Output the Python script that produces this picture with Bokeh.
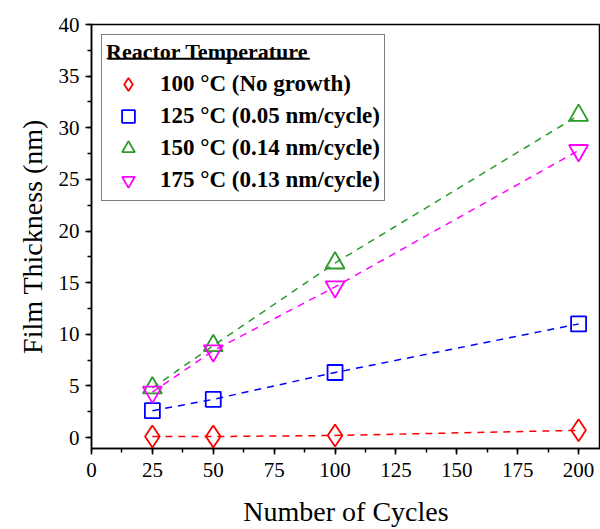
from bokeh.plotting import figure
from bokeh.models import Range1d, Legend, LegendItem, SingleIntervalTicker, BoxAnnotation
from bokeh.embed import file_html
from bokeh.resources import INLINE

cycles = [25, 50, 100, 200]
t100 = [0.1, 0.1, 0.2, 0.7]
t125 = [2.6, 3.7, 6.3, 11.0]
t150 = [4.8, 8.9, 16.9, 31.2]
t175 = [4.4, 8.4, 14.6, 27.8]
labels = ["100 °C (No growth)", "125 °C (0.05 nm/cycle)",
          "150 °C (0.14 nm/cycle)", "175 °C (0.13 nm/cycle)"]
legend_title = "Reactor Temperature"

FONT = "Liberation Serif"

p = figure(width=600, height=529, output_backend="svg", toolbar_location=None,
           x_range=Range1d(0, 209), y_range=Range1d(-1.06, 40),
           min_border_left=91, min_border_right=0, min_border_top=24, min_border_bottom=79)
p.grid.visible = False
p.background_fill_color = "white"
p.border_fill_color = "white"
p.outline_line_color = "black"
p.outline_line_width = 1.5

p.xaxis.ticker = SingleIntervalTicker(interval=25, num_minor_ticks=2)
p.yaxis.ticker = SingleIntervalTicker(interval=5, num_minor_ticks=2)
for ax in (p.xaxis, p.yaxis):
    ax.major_label_text_font = FONT
    ax.major_label_text_font_size = "21px"
    ax.major_label_text_color = "black"
    ax.axis_label_text_font = FONT
    ax.axis_label_text_font_size = "28px"
    ax.axis_label_text_font_style = "normal"
    ax.axis_label_text_color = "black"
    ax.axis_line_color = "black"
    ax.major_tick_line_color = "black"
    ax.minor_tick_line_color = "black"
    ax.axis_line_width = 1.5
    ax.major_tick_line_width = 1.5
    ax.minor_tick_line_width = 1.5
    ax.major_tick_out = 6
    ax.major_tick_in = 0
    ax.minor_tick_out = 4
    ax.minor_tick_in = 0
p.xaxis.axis_label = "Number of Cycles"
p.yaxis.axis_label = "Film Thickness (nm)"
p.xaxis.major_label_standoff = 8
p.yaxis.major_label_standoff = 6
p.xaxis.axis_label_standoff = 16
p.yaxis.axis_label_standoff = 8

series = [
    (t100, "#ff0000", "diamond", 22),
    (t125, "#0000ff", "square", 15),
    (t150, "#2a9a2a", "triangle", 19),
    (t175, "#ff00ff", "inverted_triangle", 19),
]
items = []
for (ys, col, mk, sz), lab in zip(series, labels):
    p.line(cycles, ys, line_color=col, line_width=1.5, line_dash="7 6")
    r = p.scatter(cycles, ys, marker=mk, size=sz, fill_color=None,
                  line_color=col, line_width=1.8)
    items.append(LegendItem(label=lab, renderers=[r]))

legend = Legend(items=items, location="top_left",
                title=legend_title,
                title_text_font=FONT, title_text_font_style="bold",
                title_text_font_size="22px", title_standoff=3,
                title_text_color="black",
                label_text_font=FONT, label_text_font_style="bold",
                label_text_font_size="23px", label_text_color="black",
                border_line_color="black", border_line_width=1.2,
                background_fill_alpha=0.0,
                margin=10, padding=4, spacing=0,
                glyph_width=44, glyph_height=32, label_standoff=10)
p.add_layout(legend)

# underline of the legend title
p.add_layout(BoxAnnotation(left=6.6, right=89.6, top=36.78, bottom=36.58,
                           fill_color="black", fill_alpha=1, line_alpha=0))

open("out.html", "w").write(file_html(p, INLINE))
